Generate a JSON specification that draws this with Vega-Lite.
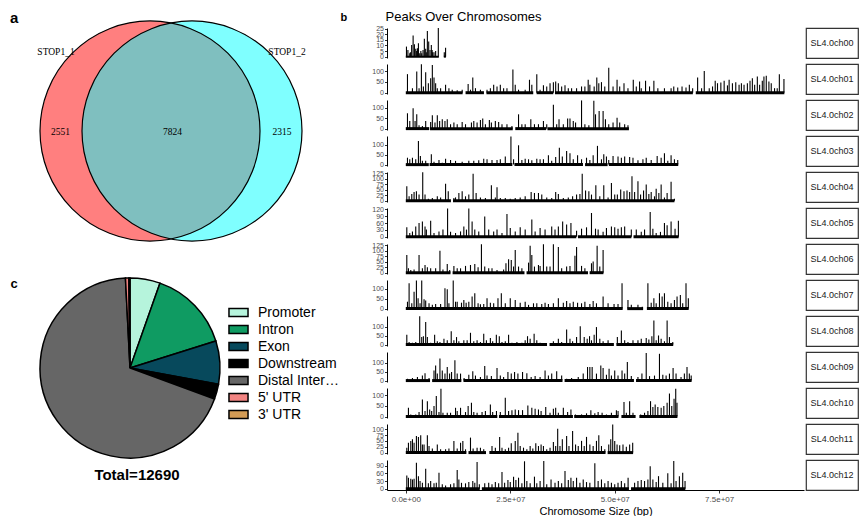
{
"$schema":"https://vega.github.io/schema/vega-lite/v6.json",
"padding":{"left":10,"top":10,"right":0,"bottom":0},
"background":"white",
"config":{"font":"Liberation Sans","view":{"stroke":null},"axis":{"grid":false,"domainColor":"black","tickColor":"#333333","labelColor":"#4d4d4d","labelFont":"Liberation Sans","titleFont":"Liberation Sans"},"axisY":{"labelFontSize":7,"tickSize":2.5,"labelPadding":1,"labelOverlap":false,"labelFlush":false,"labelBaseline":"middle"}},
"datasets":{
"venn":[{"set":"STOP1_1","x":140,"y":117},{"set":"STOP1_2","x":182,"y":117}],
"vlab":[{"t":"STOP1_1","x":46,"y":196},{"t":"STOP1_2","x":277,"y":196},{"t":"2551","x":50.5,"y":116},{"t":"7824","x":162.5,"y":116},{"t":"2315","x":272,"y":116}],
"pie":[{"k":"Promoter","n":685,"o":1},{"k":"Intron","n":1872,"o":2},{"k":"Exon","n":983,"o":3},{"k":"Downstream","n":343,"o":4},{"k":"Distal Intergenic","n":8705,"o":5},{"k":"5' UTR","n":76,"o":6},{"k":"3' UTR","n":26,"o":7}],
"segs":[{"c":"00","a":0,"b":7.9},{"c":"00","a":9.1,"b":9.6},
{"c":"01","a":0,"b":13.6},{"c":"01","a":14.3,"b":18.7},{"c":"01","a":19.3,"b":30.5},{"c":"01","a":31.3,"b":35.3},{"c":"01","a":35.7,"b":68.7},{"c":"01","a":69.4,"b":90.6},
{"c":"02","a":0,"b":5.6},{"c":"02","a":5.8,"b":25.6},{"c":"02","a":26.2,"b":33.6},{"c":"02","a":33.9,"b":53.4},
{"c":"03","a":0,"b":5.5},{"c":"03","a":5.7,"b":25.5},{"c":"03","a":26,"b":42.4},{"c":"03","a":42.9,"b":48.3},{"c":"03","a":48.6,"b":65.2},
{"c":"04","a":0,"b":10.8},{"c":"04","a":11.3,"b":64.3},
{"c":"05","a":0,"b":40.8},{"c":"05","a":41.2,"b":54.0},{"c":"05","a":54.5,"b":65.3},
{"c":"06","a":0,"b":10.7},{"c":"06","a":11.2,"b":28.4},{"c":"06","a":28.9,"b":43.6},{"c":"06","a":44.0,"b":47.3},
{"c":"07","a":0,"b":51.9},{"c":"07","a":53.0,"b":56.8},{"c":"07","a":57.7,"b":67.7},
{"c":"08","a":0,"b":33.8},{"c":"08","a":34.4,"b":49.8},{"c":"08","a":50.4,"b":64.0},
{"c":"09","a":0,"b":5.8},{"c":"09","a":6.3,"b":13.3},{"c":"09","a":13.8,"b":37.5},{"c":"09","a":38.0,"b":54.6},{"c":"09","a":55.1,"b":68.4},
{"c":"10","a":0,"b":21.9},{"c":"10","a":22.3,"b":40.0},{"c":"10","a":40.3,"b":50.9},{"c":"10","a":51.6,"b":55.0},{"c":"10","a":55.9,"b":65.0},
{"c":"11","a":0,"b":14.5},{"c":"11","a":15.0,"b":19.2},{"c":"11","a":20.0,"b":47.8},{"c":"11","a":48.3,"b":54.4},
{"c":"12","a":0,"b":17.7},{"c":"12","a":18.2,"b":53.4},{"c":"12","a":53.9,"b":66.9}],
"peaks":[
{"c":"00","p":0.16,"s":9},{"c":"00","p":0.5,"s":6},{"c":"00","p":0.95,"s":3},{"c":"00","p":1.1,"s":4},{"c":"00","p":1.4,"s":10.5},{"c":"00","p":1.75,"s":19},{"c":"00","p":2.06,"s":11},{"c":"00","p":2.38,"s":7},{"c":"00","p":2.6,"s":5},{"c":"00","p":2.78,"s":7.5},{"c":"00","p":3.02,"s":12},{"c":"00","p":3.33,"s":3},{"c":"00","p":3.6,"s":5},{"c":"00","p":3.81,"s":3},{"c":"00","p":4.13,"s":6},{"c":"00","p":4.44,"s":16},{"c":"00","p":4.76,"s":7},{"c":"00","p":4.9,"s":4},{"c":"00","p":5.16,"s":23},{"c":"00","p":5.48,"s":13.5},{"c":"00","p":5.79,"s":6},{"c":"00","p":6.11,"s":10.5},{"c":"00","p":6.3,"s":6},{"c":"00","p":6.43,"s":4},{"c":"00","p":6.75,"s":4},{"c":"00","p":7.14,"s":5},{"c":"00","p":7.78,"s":25.5},{"c":"00","p":9.21,"s":4},{"c":"00","p":9.52,"s":8},
{"c":"01","p":0.4,"s":86},{"c":"01","p":1.59,"s":21},{"c":"01","p":2.62,"s":98},{"c":"01","p":3.17,"s":21},{"c":"01","p":3.73,"s":132},{"c":"01","p":4.21,"s":29},{"c":"01","p":4.76,"s":95},{"c":"01","p":5.4,"s":44},{"c":"01","p":5.95,"s":67},{"c":"01","p":6.35,"s":128},{"c":"01","p":6.75,"s":70},{"c":"01","p":7.14,"s":44},{"c":"01","p":7.54,"s":21},{"c":"01","p":8.33,"s":21},{"c":"01","p":9.52,"s":37},{"c":"01","p":10.32,"s":21},{"c":"01","p":11.11,"s":14},{"c":"01","p":12.3,"s":11},{"c":"01","p":13.49,"s":14},{"c":"01","p":14.92,"s":40},{"c":"01","p":15.48,"s":14},{"c":"01","p":16.03,"s":70},{"c":"01","p":16.67,"s":21},{"c":"01","p":17.86,"s":14},{"c":"01","p":19.44,"s":14},{"c":"01","p":20.24,"s":21},{"c":"01","p":21.03,"s":37},{"c":"01","p":21.83,"s":29},{"c":"01","p":22.62,"s":37},{"c":"01","p":23.41,"s":21},{"c":"01","p":24.21,"s":21},{"c":"01","p":25.63,"s":108},{"c":"01","p":26.19,"s":37},{"c":"01","p":26.98,"s":14},{"c":"01","p":28.57,"s":14},{"c":"01","p":29.6,"s":60},{"c":"01","p":30.16,"s":37},{"c":"01","p":31.35,"s":85},{"c":"01","p":32.14,"s":14},{"c":"01","p":32.94,"s":34},{"c":"01","p":33.73,"s":29},{"c":"01","p":34.52,"s":44},{"c":"01","p":35.32,"s":49},{"c":"01","p":35.87,"s":52},{"c":"01","p":36.51,"s":44},{"c":"01","p":37.3,"s":29},{"c":"01","p":38.1,"s":34},{"c":"01","p":38.89,"s":21},{"c":"01","p":39.68,"s":21},{"c":"01","p":40.87,"s":21},{"c":"01","p":42.06,"s":29},{"c":"01","p":42.86,"s":29},{"c":"01","p":43.65,"s":60},{"c":"01","p":44.05,"s":37},{"c":"01","p":45.08,"s":29},{"c":"01","p":45.71,"s":70},{"c":"01","p":46.19,"s":44},{"c":"01","p":46.83,"s":49},{"c":"01","p":47.62,"s":29},{"c":"01","p":48.57,"s":116},{"c":"01","p":49.6,"s":29},{"c":"01","p":50.56,"s":60},{"c":"01","p":51.19,"s":29},{"c":"01","p":52.22,"s":44},{"c":"01","p":53.17,"s":21},{"c":"01","p":54.44,"s":60},{"c":"01","p":55.16,"s":29},{"c":"01","p":55.95,"s":52},{"c":"01","p":56.35,"s":21},{"c":"01","p":57.38,"s":55},{"c":"01","p":58.33,"s":29},{"c":"01","p":59.37,"s":55},{"c":"01","p":60.32,"s":21},{"c":"01","p":61.9,"s":21},{"c":"01","p":63.49,"s":21},{"c":"01","p":64.13,"s":29},{"c":"01","p":65.08,"s":24},{"c":"01","p":66.11,"s":29},{"c":"01","p":67.06,"s":24},{"c":"01","p":67.86,"s":37},{"c":"01","p":68.65,"s":21},{"c":"01","p":69.84,"s":70},{"c":"01","p":70.79,"s":21},{"c":"01","p":71.43,"s":101},{"c":"01","p":72.62,"s":21},{"c":"01","p":73.41,"s":29},{"c":"01","p":74.05,"s":55},{"c":"01","p":74.6,"s":44},{"c":"01","p":75.4,"s":47},{"c":"01","p":76.19,"s":55},{"c":"01","p":76.98,"s":34},{"c":"01","p":77.38,"s":60},{"c":"01","p":78.17,"s":44},{"c":"01","p":78.97,"s":49},{"c":"01","p":79.76,"s":37},{"c":"01","p":80.32,"s":44},{"c":"01","p":80.95,"s":37},{"c":"01","p":81.75,"s":44},{"c":"01","p":82.38,"s":55},{"c":"01","p":82.94,"s":67},{"c":"01","p":83.49,"s":37},{"c":"01","p":84.13,"s":75},{"c":"01","p":84.68,"s":37},{"c":"01","p":85.32,"s":55},{"c":"01","p":85.71,"s":75},{"c":"01","p":86.27,"s":79},{"c":"01","p":86.9,"s":52},{"c":"01","p":87.46,"s":44},{"c":"01","p":88.25,"s":21},{"c":"01","p":88.89,"s":21},{"c":"01","p":89.4,"s":85},{"c":"01","p":90.5,"s":64},
{"c":"02","p":0.4,"s":73},{"c":"02","p":0.95,"s":36},{"c":"02","p":1.75,"s":97},{"c":"02","p":2.22,"s":36},{"c":"02","p":2.62,"s":68},{"c":"02","p":3.17,"s":16},{"c":"02","p":3.97,"s":13},{"c":"02","p":4.76,"s":36},{"c":"02","p":5.95,"s":32},{"c":"02","p":6.35,"s":63},{"c":"02","p":6.98,"s":29},{"c":"02","p":7.54,"s":63},{"c":"02","p":8.1,"s":36},{"c":"02","p":8.73,"s":44},{"c":"02","p":9.37,"s":36},{"c":"02","p":9.92,"s":44},{"c":"02","p":10.71,"s":21},{"c":"02","p":11.51,"s":29},{"c":"02","p":12.3,"s":21},{"c":"02","p":13.49,"s":32},{"c":"02","p":14.29,"s":21},{"c":"02","p":15.71,"s":29},{"c":"02","p":16.27,"s":36},{"c":"02","p":17.06,"s":29},{"c":"02","p":17.86,"s":41},{"c":"02","p":18.41,"s":48},{"c":"02","p":19.05,"s":21},{"c":"02","p":20.0,"s":41},{"c":"02","p":20.48,"s":29},{"c":"02","p":21.43,"s":36},{"c":"02","p":22.22,"s":32},{"c":"02","p":23.02,"s":21},{"c":"02","p":24.21,"s":21},{"c":"02","p":25.4,"s":13},{"c":"02","p":26.98,"s":68},{"c":"02","p":27.78,"s":21},{"c":"02","p":28.57,"s":21},{"c":"02","p":29.92,"s":44},{"c":"02","p":30.79,"s":21},{"c":"02","p":31.75,"s":21},{"c":"02","p":32.94,"s":36},{"c":"02","p":33.73,"s":21},{"c":"02","p":35.32,"s":113},{"c":"02","p":36.11,"s":21},{"c":"02","p":36.67,"s":44},{"c":"02","p":37.7,"s":21},{"c":"02","p":38.73,"s":48},{"c":"02","p":39.29,"s":48},{"c":"02","p":40.08,"s":36},{"c":"02","p":40.63,"s":29},{"c":"02","p":42.06,"s":134},{"c":"02","p":42.86,"s":21},{"c":"02","p":43.81,"s":16},{"c":"02","p":45.0,"s":133},{"c":"02","p":45.4,"s":68},{"c":"02","p":46.27,"s":84},{"c":"02","p":47.22,"s":84},{"c":"02","p":47.78,"s":44},{"c":"02","p":48.57,"s":21},{"c":"02","p":49.6,"s":29},{"c":"02","p":50.56,"s":52},{"c":"02","p":51.19,"s":29},{"c":"02","p":52.38,"s":21},{"c":"02","p":53.17,"s":16},
{"c":"03","p":0.4,"s":35},{"c":"03","p":0.95,"s":27},{"c":"03","p":1.59,"s":35},{"c":"03","p":2.38,"s":27},{"c":"03","p":3.02,"s":120},{"c":"03","p":3.49,"s":44},{"c":"03","p":3.97,"s":19},{"c":"03","p":4.76,"s":19},{"c":"03","p":6.11,"s":52},{"c":"03","p":6.75,"s":14},{"c":"03","p":7.94,"s":24},{"c":"03","p":8.73,"s":10},{"c":"03","p":9.52,"s":30},{"c":"03","p":10.71,"s":24},{"c":"03","p":11.9,"s":19},{"c":"03","p":13.49,"s":14},{"c":"03","p":15.08,"s":19},{"c":"03","p":16.27,"s":19},{"c":"03","p":17.46,"s":22},{"c":"03","p":18.65,"s":30},{"c":"03","p":19.44,"s":27},{"c":"03","p":20.63,"s":24},{"c":"03","p":21.83,"s":24},{"c":"03","p":22.62,"s":27},{"c":"03","p":23.81,"s":41},{"c":"03","p":25.16,"s":143},{"c":"03","p":25.79,"s":27},{"c":"03","p":26.98,"s":98},{"c":"03","p":27.78,"s":24},{"c":"03","p":28.57,"s":30},{"c":"03","p":29.37,"s":27},{"c":"03","p":30.16,"s":22},{"c":"03","p":31.35,"s":30},{"c":"03","p":32.14,"s":27},{"c":"03","p":32.94,"s":27},{"c":"03","p":34.13,"s":47},{"c":"03","p":34.92,"s":19},{"c":"03","p":35.87,"s":39},{"c":"03","p":36.75,"s":86},{"c":"03","p":37.46,"s":41},{"c":"03","p":38.49,"s":69},{"c":"03","p":39.29,"s":57},{"c":"03","p":40.08,"s":27},{"c":"03","p":41.11,"s":47},{"c":"03","p":42.06,"s":27},{"c":"03","p":43.25,"s":35},{"c":"03","p":44.05,"s":24},{"c":"03","p":44.84,"s":47},{"c":"03","p":45.87,"s":95},{"c":"03","p":46.83,"s":27},{"c":"03","p":47.38,"s":52},{"c":"03","p":48.02,"s":41},{"c":"03","p":48.57,"s":24},{"c":"03","p":49.6,"s":44},{"c":"03","p":50.79,"s":41},{"c":"03","p":51.59,"s":35},{"c":"03","p":52.38,"s":41},{"c":"03","p":53.57,"s":39},{"c":"03","p":54.37,"s":35},{"c":"03","p":55.56,"s":22},{"c":"03","p":56.75,"s":27},{"c":"03","p":57.54,"s":35},{"c":"03","p":58.73,"s":24},{"c":"03","p":60.16,"s":44},{"c":"03","p":61.11,"s":35},{"c":"03","p":61.9,"s":57},{"c":"03","p":62.7,"s":19},{"c":"03","p":63.49,"s":47},{"c":"03","p":64.29,"s":27},{"c":"03","p":65.08,"s":24},
{"c":"04","p":0.24,"s":66},{"c":"04","p":0.79,"s":20},{"c":"04","p":1.43,"s":31},{"c":"04","p":1.98,"s":40},{"c":"04","p":2.54,"s":43},{"c":"04","p":3.17,"s":28},{"c":"04","p":4.05,"s":130},{"c":"04","p":4.6,"s":28},{"c":"04","p":5.4,"s":9},{"c":"04","p":6.35,"s":12},{"c":"04","p":7.54,"s":20},{"c":"04","p":8.33,"s":15},{"c":"04","p":9.52,"s":77},{"c":"04","p":10.16,"s":43},{"c":"04","p":11.51,"s":12},{"c":"04","p":11.9,"s":15},{"c":"04","p":12.7,"s":35},{"c":"04","p":13.49,"s":43},{"c":"04","p":14.29,"s":20},{"c":"04","p":15.08,"s":28},{"c":"04","p":16.11,"s":123},{"c":"04","p":16.83,"s":35},{"c":"04","p":17.86,"s":15},{"c":"04","p":19.05,"s":12},{"c":"04","p":20.48,"s":71},{"c":"04","p":21.43,"s":15},{"c":"04","p":21.83,"s":61},{"c":"04","p":22.62,"s":12},{"c":"04","p":23.81,"s":12},{"c":"04","p":25.0,"s":9},{"c":"04","p":26.19,"s":12},{"c":"04","p":27.38,"s":15},{"c":"04","p":28.57,"s":20},{"c":"04","p":30.0,"s":40},{"c":"04","p":30.79,"s":35},{"c":"04","p":31.75,"s":35},{"c":"04","p":32.54,"s":28},{"c":"04","p":33.73,"s":15},{"c":"04","p":34.92,"s":12},{"c":"04","p":35.87,"s":40},{"c":"04","p":36.51,"s":31},{"c":"04","p":37.7,"s":12},{"c":"04","p":38.89,"s":15},{"c":"04","p":39.92,"s":20},{"c":"04","p":40.87,"s":28},{"c":"04","p":41.67,"s":31},{"c":"04","p":42.22,"s":123},{"c":"04","p":43.02,"s":46},{"c":"04","p":43.81,"s":43},{"c":"04","p":44.44,"s":28},{"c":"04","p":45.48,"s":71},{"c":"04","p":46.43,"s":20},{"c":"04","p":47.38,"s":71},{"c":"04","p":48.41,"s":15},{"c":"04","p":49.21,"s":81},{"c":"04","p":50.0,"s":28},{"c":"04","p":50.63,"s":28},{"c":"04","p":51.43,"s":51},{"c":"04","p":52.22,"s":43},{"c":"04","p":52.94,"s":46},{"c":"04","p":53.57,"s":40},{"c":"04","p":54.13,"s":112},{"c":"04","p":54.76,"s":40},{"c":"04","p":55.56,"s":89},{"c":"04","p":56.19,"s":28},{"c":"04","p":56.9,"s":46},{"c":"04","p":57.54,"s":74},{"c":"04","p":58.17,"s":31},{"c":"04","p":58.73,"s":40},{"c":"04","p":59.52,"s":20},{"c":"04","p":59.92,"s":55},{"c":"04","p":60.56,"s":35},{"c":"04","p":61.11,"s":74},{"c":"04","p":61.9,"s":15},{"c":"04","p":62.54,"s":35},{"c":"04","p":63.49,"s":86},{"c":"04","p":64.29,"s":9},
{"c":"05","p":0.24,"s":41},{"c":"05","p":0.95,"s":16},{"c":"05","p":1.59,"s":23},{"c":"05","p":2.38,"s":45},{"c":"05","p":3.17,"s":60},{"c":"05","p":3.97,"s":67},{"c":"05","p":4.6,"s":45},{"c":"05","p":4.92,"s":31},{"c":"05","p":5.95,"s":70},{"c":"05","p":6.75,"s":16},{"c":"05","p":7.94,"s":23},{"c":"05","p":8.89,"s":31},{"c":"05","p":10.0,"s":124},{"c":"05","p":10.71,"s":21},{"c":"05","p":11.9,"s":16},{"c":"05","p":13.1,"s":23},{"c":"05","p":13.89,"s":45},{"c":"05","p":14.52,"s":31},{"c":"05","p":15.08,"s":124},{"c":"05","p":15.87,"s":67},{"c":"05","p":16.51,"s":31},{"c":"05","p":17.46,"s":23},{"c":"05","p":18.89,"s":89},{"c":"05","p":19.84,"s":31},{"c":"05","p":21.03,"s":23},{"c":"05","p":21.83,"s":31},{"c":"05","p":23.02,"s":16},{"c":"05","p":24.21,"s":100},{"c":"05","p":25.0,"s":38},{"c":"05","p":26.19,"s":23},{"c":"05","p":27.38,"s":41},{"c":"05","p":28.57,"s":31},{"c":"05","p":30.16,"s":75},{"c":"05","p":30.95,"s":23},{"c":"05","p":32.14,"s":38},{"c":"05","p":33.33,"s":31},{"c":"05","p":34.92,"s":45},{"c":"05","p":35.71,"s":31},{"c":"05","p":36.51,"s":45},{"c":"05","p":37.54,"s":67},{"c":"05","p":38.49,"s":53},{"c":"05","p":39.52,"s":60},{"c":"05","p":40.87,"s":26},{"c":"05","p":42.06,"s":35},{"c":"05","p":43.25,"s":41},{"c":"05","p":44.44,"s":104},{"c":"05","p":45.4,"s":35},{"c":"05","p":46.03,"s":31},{"c":"05","p":47.22,"s":21},{"c":"05","p":48.02,"s":38},{"c":"05","p":49.21,"s":45},{"c":"05","p":50.0,"s":41},{"c":"05","p":50.79,"s":35},{"c":"05","p":51.59,"s":41},{"c":"05","p":52.38,"s":45},{"c":"05","p":53.97,"s":31},{"c":"05","p":55.16,"s":31},{"c":"05","p":56.35,"s":21},{"c":"05","p":57.14,"s":31},{"c":"05","p":58.49,"s":108},{"c":"05","p":59.13,"s":35},{"c":"05","p":59.92,"s":16},{"c":"05","p":60.95,"s":21},{"c":"05","p":61.9,"s":60},{"c":"05","p":62.54,"s":50},{"c":"05","p":63.49,"s":67},{"c":"05","p":64.44,"s":35},{"c":"05","p":65.24,"s":70},
{"c":"06","p":0.24,"s":81},{"c":"06","p":0.63,"s":20},{"c":"06","p":1.19,"s":12},{"c":"06","p":1.98,"s":15},{"c":"06","p":3.17,"s":81},{"c":"06","p":3.97,"s":20},{"c":"06","p":4.6,"s":35},{"c":"06","p":5.16,"s":25},{"c":"06","p":5.95,"s":20},{"c":"06","p":7.14,"s":20},{"c":"06","p":8.17,"s":100},{"c":"06","p":8.89,"s":15},{"c":"06","p":9.92,"s":40},{"c":"06","p":10.5,"s":12},{"c":"06","p":11.51,"s":31},{"c":"06","p":12.3,"s":20},{"c":"06","p":13.1,"s":20},{"c":"06","p":14.29,"s":31},{"c":"06","p":15.48,"s":35},{"c":"06","p":16.51,"s":40},{"c":"06","p":17.3,"s":25},{"c":"06","p":18.1,"s":130},{"c":"06","p":18.89,"s":28},{"c":"06","p":19.84,"s":20},{"c":"06","p":20.63,"s":20},{"c":"06","p":21.83,"s":12},{"c":"06","p":23.41,"s":15},{"c":"06","p":23.97,"s":43},{"c":"06","p":24.6,"s":61},{"c":"06","p":25.24,"s":58},{"c":"06","p":25.79,"s":28},{"c":"06","p":26.19,"s":104},{"c":"06","p":26.98,"s":28},{"c":"06","p":27.78,"s":20},{"c":"06","p":29.37,"s":46},{"c":"06","p":29.76,"s":123},{"c":"06","p":30.16,"s":81},{"c":"06","p":30.79,"s":28},{"c":"06","p":31.75,"s":35},{"c":"06","p":32.14,"s":31},{"c":"06","p":32.94,"s":130},{"c":"06","p":33.73,"s":28},{"c":"06","p":34.52,"s":28},{"c":"06","p":35.32,"s":130},{"c":"06","p":36.51,"s":117},{"c":"06","p":37.3,"s":20},{"c":"06","p":38.49,"s":28},{"c":"06","p":39.29,"s":31},{"c":"06","p":40.48,"s":77},{"c":"06","p":40.87,"s":117},{"c":"06","p":42.06,"s":31},{"c":"06","p":42.86,"s":20},{"c":"06","p":44.44,"s":43},{"c":"06","p":44.84,"s":51},{"c":"06","p":45.79,"s":123},{"c":"06","p":46.43,"s":28},{"c":"06","p":47.22,"s":104},
{"c":"07","p":0.4,"s":35},{"c":"07","p":0.79,"s":128},{"c":"07","p":1.43,"s":27},{"c":"07","p":1.98,"s":86},{"c":"07","p":2.54,"s":143},{"c":"07","p":2.94,"s":52},{"c":"07","p":3.41,"s":27},{"c":"07","p":3.81,"s":142},{"c":"07","p":4.37,"s":47},{"c":"07","p":4.76,"s":41},{"c":"07","p":5.56,"s":27},{"c":"07","p":6.35,"s":19},{"c":"07","p":7.14,"s":24},{"c":"07","p":8.33,"s":24},{"c":"07","p":9.37,"s":103},{"c":"07","p":9.92,"s":98},{"c":"07","p":10.32,"s":27},{"c":"07","p":11.35,"s":143},{"c":"07","p":11.9,"s":35},{"c":"07","p":12.3,"s":35},{"c":"07","p":13.33,"s":30},{"c":"07","p":13.89,"s":44},{"c":"07","p":14.44,"s":30},{"c":"07","p":15.08,"s":35},{"c":"07","p":15.87,"s":61},{"c":"07","p":16.51,"s":78},{"c":"07","p":17.3,"s":27},{"c":"07","p":17.86,"s":22},{"c":"07","p":18.65,"s":24},{"c":"07","p":19.44,"s":52},{"c":"07","p":20.24,"s":30},{"c":"07","p":21.03,"s":27},{"c":"07","p":22.06,"s":52},{"c":"07","p":22.86,"s":78},{"c":"07","p":23.81,"s":27},{"c":"07","p":25.0,"s":52},{"c":"07","p":26.19,"s":44},{"c":"07","p":27.38,"s":30},{"c":"07","p":28.57,"s":35},{"c":"07","p":29.37,"s":19},{"c":"07","p":30.56,"s":27},{"c":"07","p":31.35,"s":27},{"c":"07","p":32.54,"s":24},{"c":"07","p":33.33,"s":30},{"c":"07","p":34.13,"s":24},{"c":"07","p":35.32,"s":27},{"c":"07","p":36.51,"s":52},{"c":"07","p":37.7,"s":30},{"c":"07","p":38.49,"s":39},{"c":"07","p":39.29,"s":27},{"c":"07","p":40.08,"s":35},{"c":"07","p":41.11,"s":30},{"c":"07","p":42.06,"s":27},{"c":"07","p":42.86,"s":35},{"c":"07","p":44.05,"s":24},{"c":"07","p":44.84,"s":39},{"c":"07","p":45.63,"s":27},{"c":"07","p":47.22,"s":61},{"c":"07","p":48.41,"s":27},{"c":"07","p":49.84,"s":24},{"c":"07","p":50.79,"s":24},{"c":"07","p":51.75,"s":128},{"c":"07","p":53.17,"s":44},{"c":"07","p":53.97,"s":19},{"c":"07","p":55.56,"s":19},{"c":"07","p":56.6,"s":10},{"c":"07","p":57.94,"s":128},{"c":"07","p":58.73,"s":30},{"c":"07","p":59.37,"s":52},{"c":"07","p":59.92,"s":27},{"c":"07","p":60.71,"s":78},{"c":"07","p":61.35,"s":61},{"c":"07","p":61.9,"s":78},{"c":"07","p":62.7,"s":35},{"c":"07","p":63.49,"s":27},{"c":"07","p":64.29,"s":44},{"c":"07","p":64.92,"s":61},{"c":"07","p":65.71,"s":69},{"c":"07","p":66.27,"s":27},{"c":"07","p":67.06,"s":128},{"c":"07","p":67.62,"s":52},
{"c":"08","p":0.24,"s":55},{"c":"08","p":0.79,"s":14},{"c":"08","p":1.59,"s":10},{"c":"08","p":2.38,"s":14},{"c":"08","p":3.33,"s":158},{"c":"08","p":3.81,"s":42},{"c":"08","p":4.21,"s":47},{"c":"08","p":4.76,"s":126},{"c":"08","p":5.16,"s":42},{"c":"08","p":5.95,"s":10},{"c":"08","p":6.9,"s":55},{"c":"08","p":7.54,"s":18},{"c":"08","p":8.17,"s":14},{"c":"08","p":9.13,"s":33},{"c":"08","p":9.92,"s":24},{"c":"08","p":10.87,"s":74},{"c":"08","p":11.51,"s":24},{"c":"08","p":12.14,"s":42},{"c":"08","p":12.7,"s":18},{"c":"08","p":13.89,"s":24},{"c":"08","p":14.68,"s":24},{"c":"08","p":15.48,"s":66},{"c":"08","p":16.27,"s":18},{"c":"08","p":17.06,"s":24},{"c":"08","p":17.86,"s":14},{"c":"08","p":18.65,"s":61},{"c":"08","p":19.29,"s":24},{"c":"08","p":20.24,"s":37},{"c":"08","p":20.79,"s":18},{"c":"08","p":21.67,"s":55},{"c":"08","p":22.38,"s":47},{"c":"08","p":23.02,"s":14},{"c":"08","p":23.81,"s":18},{"c":"08","p":24.6,"s":55},{"c":"08","p":25.4,"s":10},{"c":"08","p":26.59,"s":14},{"c":"08","p":27.78,"s":10},{"c":"08","p":28.57,"s":24},{"c":"08","p":29.13,"s":47},{"c":"08","p":29.76,"s":33},{"c":"08","p":30.71,"s":61},{"c":"08","p":31.35,"s":24},{"c":"08","p":32.14,"s":10},{"c":"08","p":32.94,"s":5},{"c":"08","p":35.32,"s":18},{"c":"08","p":36.51,"s":33},{"c":"08","p":37.3,"s":14},{"c":"08","p":38.49,"s":85},{"c":"08","p":39.29,"s":33},{"c":"08","p":39.92,"s":18},{"c":"08","p":40.87,"s":42},{"c":"08","p":41.75,"s":103},{"c":"08","p":42.7,"s":42},{"c":"08","p":43.41,"s":33},{"c":"08","p":43.97,"s":47},{"c":"08","p":44.44,"s":24},{"c":"08","p":45.08,"s":55},{"c":"08","p":45.63,"s":98},{"c":"08","p":46.43,"s":33},{"c":"08","p":47.22,"s":18},{"c":"08","p":48.41,"s":24},{"c":"08","p":49.4,"s":5},{"c":"08","p":50.63,"s":42},{"c":"08","p":51.59,"s":79},{"c":"08","p":52.38,"s":24},{"c":"08","p":53.17,"s":14},{"c":"08","p":54.37,"s":24},{"c":"08","p":55.56,"s":24},{"c":"08","p":56.35,"s":33},{"c":"08","p":57.54,"s":37},{"c":"08","p":58.17,"s":29},{"c":"08","p":58.89,"s":47},{"c":"08","p":59.37,"s":135},{"c":"08","p":59.92,"s":24},{"c":"08","p":60.48,"s":51},{"c":"08","p":61.11,"s":33},{"c":"08","p":61.9,"s":18},{"c":"08","p":62.54,"s":135},{"c":"08","p":63.1,"s":42},{"c":"08","p":63.89,"s":14},
{"c":"09","p":0.4,"s":10},{"c":"09","p":1.59,"s":14},{"c":"09","p":2.78,"s":20},{"c":"09","p":3.97,"s":28},{"c":"09","p":4.6,"s":41},{"c":"09","p":5.56,"s":14},{"c":"09","p":6.75,"s":57},{"c":"09","p":7.14,"s":85},{"c":"09","p":7.54,"s":39},{"c":"09","p":8.17,"s":123},{"c":"09","p":8.73,"s":57},{"c":"09","p":9.37,"s":39},{"c":"09","p":9.92,"s":76},{"c":"09","p":10.48,"s":39},{"c":"09","p":10.95,"s":48},{"c":"09","p":11.75,"s":114},{"c":"09","p":12.3,"s":39},{"c":"09","p":13.1,"s":39},{"c":"09","p":13.95,"s":14},{"c":"09","p":15.08,"s":33},{"c":"09","p":16.03,"s":52},{"c":"09","p":16.67,"s":28},{"c":"09","p":17.86,"s":20},{"c":"09","p":18.89,"s":81},{"c":"09","p":19.44,"s":28},{"c":"09","p":20.48,"s":25},{"c":"09","p":21.83,"s":70},{"c":"09","p":22.62,"s":28},{"c":"09","p":23.41,"s":20},{"c":"09","p":24.44,"s":48},{"c":"09","p":25.24,"s":39},{"c":"09","p":26.03,"s":48},{"c":"09","p":26.83,"s":39},{"c":"09","p":27.94,"s":48},{"c":"09","p":28.97,"s":41},{"c":"09","p":30.0,"s":20},{"c":"09","p":30.95,"s":25},{"c":"09","p":32.14,"s":20},{"c":"09","p":33.33,"s":57},{"c":"09","p":34.13,"s":28},{"c":"09","p":34.92,"s":39},{"c":"09","p":36.11,"s":52},{"c":"09","p":37.3,"s":28},{"c":"09","p":38.49,"s":10},{"c":"09","p":39.68,"s":14},{"c":"09","p":41.27,"s":20},{"c":"09","p":42.46,"s":39},{"c":"09","p":43.49,"s":76},{"c":"09","p":44.05,"s":76},{"c":"09","p":44.6,"s":76},{"c":"09","p":45.63,"s":39},{"c":"09","p":46.67,"s":85},{"c":"09","p":47.22,"s":70},{"c":"09","p":48.02,"s":33},{"c":"09","p":48.65,"s":66},{"c":"09","p":49.21,"s":28},{"c":"09","p":50.0,"s":57},{"c":"09","p":50.79,"s":28},{"c":"09","p":51.75,"s":57},{"c":"09","p":52.38,"s":39},{"c":"09","p":53.02,"s":104},{"c":"09","p":53.97,"s":25},{"c":"09","p":55.56,"s":20},{"c":"09","p":56.51,"s":39},{"c":"09","p":57.54,"s":155},{"c":"09","p":58.33,"s":25},{"c":"09","p":59.52,"s":28},{"c":"09","p":60.71,"s":150},{"c":"09","p":61.51,"s":33},{"c":"09","p":62.3,"s":28},{"c":"09","p":63.1,"s":39},{"c":"09","p":63.97,"s":70},{"c":"09","p":64.68,"s":39},{"c":"09","p":65.87,"s":20},{"c":"09","p":66.67,"s":39},{"c":"09","p":67.3,"s":76},{"c":"09","p":67.86,"s":39},{"c":"09","p":68.3,"s":28},
{"c":"10","p":0.63,"s":41},{"c":"10","p":1.19,"s":10},{"c":"10","p":2.38,"s":10},{"c":"10","p":3.17,"s":21},{"c":"10","p":3.97,"s":80},{"c":"10","p":4.6,"s":26},{"c":"10","p":5.16,"s":72},{"c":"10","p":5.71,"s":33},{"c":"10","p":6.19,"s":26},{"c":"10","p":6.75,"s":49},{"c":"10","p":7.3,"s":96},{"c":"10","p":7.94,"s":21},{"c":"10","p":8.41,"s":130},{"c":"10","p":8.89,"s":18},{"c":"10","p":9.92,"s":18},{"c":"10","p":10.71,"s":18},{"c":"10","p":11.9,"s":41},{"c":"10","p":12.3,"s":26},{"c":"10","p":13.1,"s":41},{"c":"10","p":14.29,"s":21},{"c":"10","p":14.92,"s":49},{"c":"10","p":15.71,"s":65},{"c":"10","p":16.27,"s":21},{"c":"10","p":17.06,"s":18},{"c":"10","p":18.25,"s":21},{"c":"10","p":19.05,"s":26},{"c":"10","p":20.24,"s":57},{"c":"10","p":20.79,"s":21},{"c":"10","p":21.7,"s":26},{"c":"10","p":22.62,"s":21},{"c":"10","p":23.81,"s":88},{"c":"10","p":24.6,"s":26},{"c":"10","p":25.4,"s":30},{"c":"10","p":26.19,"s":33},{"c":"10","p":26.98,"s":30},{"c":"10","p":27.94,"s":30},{"c":"10","p":29.21,"s":52},{"c":"10","p":30.16,"s":41},{"c":"10","p":30.95,"s":37},{"c":"10","p":31.75,"s":33},{"c":"10","p":32.38,"s":26},{"c":"10","p":33.49,"s":45},{"c":"10","p":34.52,"s":18},{"c":"10","p":35.32,"s":37},{"c":"10","p":35.87,"s":41},{"c":"10","p":36.51,"s":18},{"c":"10","p":37.7,"s":41},{"c":"10","p":38.73,"s":21},{"c":"10","p":39.52,"s":33},{"c":"10","p":40.6,"s":10},{"c":"10","p":42.06,"s":10},{"c":"10","p":43.25,"s":15},{"c":"10","p":44.29,"s":30},{"c":"10","p":45.24,"s":15},{"c":"10","p":46.03,"s":21},{"c":"10","p":46.98,"s":18},{"c":"10","p":48.02,"s":10},{"c":"10","p":49.21,"s":18},{"c":"10","p":50.4,"s":30},{"c":"10","p":50.8,"s":26},{"c":"10","p":52.22,"s":68},{"c":"10","p":52.78,"s":18},{"c":"10","p":53.57,"s":72},{"c":"10","p":54.37,"s":18},{"c":"10","p":56.2,"s":10},{"c":"10","p":57.14,"s":18},{"c":"10","p":57.94,"s":26},{"c":"10","p":58.57,"s":72},{"c":"10","p":59.13,"s":45},{"c":"10","p":59.68,"s":57},{"c":"10","p":60.32,"s":45},{"c":"10","p":61.11,"s":41},{"c":"10","p":61.75,"s":49},{"c":"10","p":62.54,"s":65},{"c":"10","p":63.1,"s":108},{"c":"10","p":63.65,"s":49},{"c":"10","p":64.2,"s":83},{"c":"10","p":64.6,"s":131},{"c":"10","p":64.9,"s":65},
{"c":"11","p":0.24,"s":21},{"c":"11","p":0.63,"s":42},{"c":"11","p":1.19,"s":50},{"c":"11","p":1.59,"s":57},{"c":"11","p":1.98,"s":42},{"c":"11","p":2.54,"s":71},{"c":"11","p":3.02,"s":67},{"c":"11","p":3.57,"s":74},{"c":"11","p":3.97,"s":35},{"c":"11","p":4.37,"s":35},{"c":"11","p":5.16,"s":74},{"c":"11","p":5.56,"s":28},{"c":"11","p":6.35,"s":17},{"c":"11","p":7.54,"s":35},{"c":"11","p":8.33,"s":14},{"c":"11","p":9.52,"s":14},{"c":"11","p":10.32,"s":17},{"c":"11","p":11.51,"s":50},{"c":"11","p":12.3,"s":17},{"c":"11","p":13.1,"s":42},{"c":"11","p":13.65,"s":50},{"c":"11","p":14.29,"s":14},{"c":"11","p":15.48,"s":64},{"c":"11","p":16.11,"s":17},{"c":"11","p":17.06,"s":21},{"c":"11","p":17.86,"s":21},{"c":"11","p":18.65,"s":14},{"c":"11","p":20.63,"s":28},{"c":"11","p":21.43,"s":21},{"c":"11","p":22.46,"s":67},{"c":"11","p":23.02,"s":21},{"c":"11","p":23.81,"s":14},{"c":"11","p":24.6,"s":21},{"c":"11","p":25.24,"s":40},{"c":"11","p":26.19,"s":50},{"c":"11","p":26.83,"s":85},{"c":"11","p":27.38,"s":28},{"c":"11","p":28.17,"s":21},{"c":"11","p":28.97,"s":14},{"c":"11","p":29.76,"s":28},{"c":"11","p":30.4,"s":17},{"c":"11","p":31.11,"s":40},{"c":"11","p":31.75,"s":28},{"c":"11","p":32.38,"s":35},{"c":"11","p":32.94,"s":28},{"c":"11","p":33.73,"s":14},{"c":"11","p":34.52,"s":21},{"c":"11","p":35.32,"s":45},{"c":"11","p":35.87,"s":28},{"c":"11","p":36.35,"s":102},{"c":"11","p":36.9,"s":28},{"c":"11","p":37.46,"s":57},{"c":"11","p":38.49,"s":71},{"c":"11","p":39.05,"s":28},{"c":"11","p":39.92,"s":92},{"c":"11","p":40.63,"s":35},{"c":"11","p":41.27,"s":28},{"c":"11","p":42.06,"s":50},{"c":"11","p":42.7,"s":28},{"c":"11","p":43.25,"s":67},{"c":"11","p":44.05,"s":35},{"c":"11","p":44.84,"s":28},{"c":"11","p":45.63,"s":50},{"c":"11","p":46.19,"s":74},{"c":"11","p":46.83,"s":28},{"c":"11","p":47.62,"s":14},{"c":"11","p":48.57,"s":35},{"c":"11","p":49.05,"s":57},{"c":"11","p":49.52,"s":120},{"c":"11","p":50.0,"s":50},{"c":"11","p":50.56,"s":35},{"c":"11","p":51.19,"s":31},{"c":"11","p":51.98,"s":35},{"c":"11","p":52.78,"s":25},{"c":"11","p":53.57,"s":35},{"c":"11","p":54.3,"s":42},
{"c":"12","p":0.24,"s":52},{"c":"12","p":0.63,"s":43},{"c":"12","p":1.19,"s":39},{"c":"12","p":1.59,"s":36},{"c":"12","p":1.98,"s":39},{"c":"12","p":2.54,"s":101},{"c":"12","p":3.02,"s":49},{"c":"12","p":3.41,"s":30},{"c":"12","p":3.97,"s":23},{"c":"12","p":4.76,"s":78},{"c":"12","p":5.4,"s":21},{"c":"12","p":5.95,"s":30},{"c":"12","p":6.75,"s":21},{"c":"12","p":7.3,"s":23},{"c":"12","p":7.94,"s":62},{"c":"12","p":8.73,"s":17},{"c":"12","p":9.52,"s":13},{"c":"12","p":10.71,"s":17},{"c":"12","p":11.51,"s":21},{"c":"12","p":12.3,"s":73},{"c":"12","p":12.7,"s":36},{"c":"12","p":13.33,"s":23},{"c":"12","p":14.29,"s":21},{"c":"12","p":15.08,"s":26},{"c":"12","p":16.03,"s":30},{"c":"12","p":16.51,"s":23},{"c":"12","p":17.06,"s":104},{"c":"12","p":17.6,"s":17},{"c":"12","p":18.89,"s":21},{"c":"12","p":19.84,"s":23},{"c":"12","p":20.63,"s":17},{"c":"12","p":21.43,"s":26},{"c":"12","p":22.22,"s":21},{"c":"12","p":23.02,"s":65},{"c":"12","p":23.65,"s":23},{"c":"12","p":24.44,"s":34},{"c":"12","p":25.0,"s":26},{"c":"12","p":25.79,"s":47},{"c":"12","p":26.35,"s":34},{"c":"12","p":26.98,"s":43},{"c":"12","p":27.78,"s":21},{"c":"12","p":28.41,"s":107},{"c":"12","p":28.97,"s":30},{"c":"12","p":29.76,"s":21},{"c":"12","p":30.79,"s":47},{"c":"12","p":31.35,"s":21},{"c":"12","p":32.14,"s":30},{"c":"12","p":33.02,"s":108},{"c":"12","p":33.73,"s":17},{"c":"12","p":34.76,"s":36},{"c":"12","p":35.71,"s":23},{"c":"12","p":36.51,"s":30},{"c":"12","p":37.3,"s":21},{"c":"12","p":38.1,"s":69},{"c":"12","p":38.89,"s":34},{"c":"12","p":39.52,"s":43},{"c":"12","p":40.08,"s":30},{"c":"12","p":40.87,"s":43},{"c":"12","p":41.67,"s":23},{"c":"12","p":42.46,"s":36},{"c":"12","p":43.25,"s":26},{"c":"12","p":44.05,"s":23},{"c":"12","p":45.24,"s":99},{"c":"12","p":46.03,"s":30},{"c":"12","p":46.83,"s":36},{"c":"12","p":47.62,"s":21},{"c":"12","p":48.41,"s":30},{"c":"12","p":49.21,"s":23},{"c":"12","p":50.0,"s":17},{"c":"12","p":50.79,"s":23},{"c":"12","p":51.59,"s":30},{"c":"12","p":52.38,"s":21},{"c":"12","p":53.2,"s":43},{"c":"12","p":54.76,"s":23},{"c":"12","p":55.56,"s":30},{"c":"12","p":56.35,"s":34},{"c":"12","p":57.14,"s":30},{"c":"12","p":57.94,"s":36},{"c":"12","p":58.49,"s":88},{"c":"12","p":59.13,"s":36},{"c":"12","p":59.92,"s":26},{"c":"12","p":60.48,"s":49},{"c":"12","p":61.51,"s":23},{"c":"12","p":62.7,"s":60},{"c":"12","p":63.49,"s":21},{"c":"12","p":64.13,"s":108},{"c":"12","p":64.68,"s":30},{"c":"12","p":65.48,"s":49},{"c":"12","p":66.27,"s":62},{"c":"12","p":66.83,"s":30}
]},
"spacing":1,
"resolve":{"scale":{"color":"independent"},"legend":{"color":"independent"}},
"hconcat":[
{"vconcat":[
 {"width":329,"height":220,
  "title":{"text":"a","anchor":"start","frame":"group","fontSize":15,"fontWeight":"bold","offset":3,"dy":10,"color":"black"},
  "layer":[
   {"data":{"name":"venn"},"mark":{"type":"point","shape":"circle","filled":true,"size":48400,"opacity":1,"fillOpacity":0.5,"strokeWidth":0},
    "encoding":{"x":{"field":"x","type":"quantitative","scale":{"domain":[0,329],"nice":false,"zero":false},"axis":{"orient":"bottom","title":"c","labels":false,"ticks":false,"domain":false,"titleX":0,"titleY":39,"titleAlign":"left","titleBaseline":"alphabetic","titleAngle":0,"titleFontSize":13,"titleFontWeight":"bold","titleColor":"black"}},
     "y":{"field":"y","type":"quantitative","scale":{"domain":[0,220],"nice":false,"zero":false},"axis":null},
     "color":{"field":"set","type":"nominal","scale":{"domain":["STOP1_1","STOP1_2"],"range":["#ff0000","#00ffff"]},"legend":null}}},
   {"data":{"name":"venn"},"mark":{"type":"point","shape":"circle","filled":false,"size":48400,"color":"black","strokeWidth":1.2,"opacity":1},
    "encoding":{"x":{"field":"x","type":"quantitative","scale":{"domain":[0,329],"nice":false,"zero":false},"axis":{"orient":"bottom","title":"c","labels":false,"ticks":false,"domain":false,"titleX":0,"titleY":39,"titleAlign":"left","titleBaseline":"alphabetic","titleAngle":0,"titleFontSize":13,"titleFontWeight":"bold","titleColor":"black"}},
     "y":{"field":"y","type":"quantitative","scale":{"domain":[0,220],"nice":false,"zero":false},"axis":null}}},
   {"data":{"name":"vlab"},"mark":{"type":"text","font":"Liberation Serif","fontSize":9.5,"color":"black","baseline":"middle","align":"center"},
    "encoding":{"x":{"field":"x","type":"quantitative","scale":{"domain":[0,329],"nice":false,"zero":false},"axis":{"orient":"bottom","title":"c","labels":false,"ticks":false,"domain":false,"titleX":0,"titleY":39,"titleAlign":"left","titleBaseline":"alphabetic","titleAngle":0,"titleFontSize":13,"titleFontWeight":"bold","titleColor":"black"}},
     "y":{"field":"y","type":"quantitative","scale":{"domain":[0,220],"nice":false,"zero":false},"axis":null},
     "text":{"field":"t"}}}
  ]},
 {"width":240,"height":180,
  "title":{"text":"Total=12690","orient":"bottom","anchor":"middle","frame":"group","fontSize":15,"fontWeight":"bold","offset":7,"dx":7,"color":"black"},
  "data":{"name":"pie"},
  "mark":{"type":"arc","radius":90,"stroke":"black","strokeWidth":1.5},
  "encoding":{
   "theta":{"field":"n","type":"quantitative","stack":true},
   "order":{"field":"o","type":"quantitative"},
   "color":{"field":"k","type":"nominal","scale":{"domain":["Promoter","Intron","Exon","Downstream","Distal Intergenic","5' UTR","3' UTR"],"range":["#b6f4dc","#0f9b62","#07495c","#000000","#666666","#f28482","#d29b55"]},
    "legend":{"orient":"none","legendX":219,"legendY":25,"title":null,"labelFontSize":14,"labelColor":"black","symbolType":"M-1.12,-0.47H1.12V0.47H-1.12Z","symbolSize":289,"symbolStrokeColor":"black","symbolStrokeWidth":1.5,"symbolOpacity":1,"rowPadding":0,"labelOffset":10,"labelLimit":81,"padding":0}}
  }}
],"spacing":30,"bounds":"flush","resolve":{"scale":{"color":"independent"},"legend":{"color":"independent"}}},
{"vconcat":[
 {"width":417,"height":30,"layer":[
  {"data":{"name":"segs"},"transform":[{"filter":"datum.c=='00'"}],"mark":{"type":"rule","strokeWidth":2,"color":"black"},
   "encoding":{"x":{"field":"a","type":"quantitative","scale":{"domain":[-4.5,95.3],"nice":false,"zero":false},"axis":{"orient":"top","title":"Peaks Over Chromosomes","labels":false,"ticks":false,"domain":false,"titleX":-2,"titleY":-8,"titleAlign":"left","titleAnchor":"start","titleBaseline":"alphabetic","titleFontSize":13,"titleFontWeight":"normal","titleColor":"black"}},"x2":{"field":"b"},
    "y":{"datum":0,"type":"quantitative","scale":{"domain":[-1.2,25.6],"nice":false,"zero":false},"axis":{"values":[0,5,10,15,20,25],"title":"b","titleAngle":0,"titleX":-47,"titleY":-8,"titleAlign":"left","titleBaseline":"alphabetic","titleFontWeight":"bold","titleFontSize":11,"titleColor":"black"}}}},
  {"data":{"name":"peaks"},"transform":[{"filter":"datum.c=='00'"}],"mark":{"type":"rule","strokeWidth":1.1,"color":"black"},
   "encoding":{"x":{"field":"p","type":"quantitative","scale":{"domain":[-4.5,95.3],"nice":false,"zero":false},"axis":{"orient":"top","title":"Peaks Over Chromosomes","labels":false,"ticks":false,"domain":false,"titleX":-2,"titleY":-8,"titleAlign":"left","titleAnchor":"start","titleBaseline":"alphabetic","titleFontSize":13,"titleFontWeight":"normal","titleColor":"black"}},
    "y":{"field":"s","type":"quantitative","scale":{"domain":[-1.2,25.6],"nice":false,"zero":false},"axis":{"values":[0,5,10,15,20,25],"title":"b","titleAngle":0,"titleX":-47,"titleY":-8,"titleAlign":"left","titleBaseline":"alphabetic","titleFontWeight":"bold","titleFontSize":11,"titleColor":"black"}},"y2":{"datum":0}}}]},
 {"width":417,"height":30,"layer":[
  {"data":{"name":"segs"},"transform":[{"filter":"datum.c=='01'"}],"mark":{"type":"rule","strokeWidth":3,"color":"black"},
   "encoding":{"x":{"field":"a","type":"quantitative","scale":{"domain":[-4.5,95.3],"nice":false,"zero":false},"axis":null},"x2":{"field":"b"},"y":{"datum":0,"type":"quantitative","scale":{"domain":[-6,133],"nice":false,"zero":false},"axis":{"values":[0,50,100],"title":null}}}},
  {"data":{"name":"peaks"},"transform":[{"filter":"datum.c=='01'"}],"mark":{"type":"rule","strokeWidth":1.1,"color":"black"},
   "encoding":{"x":{"field":"p","type":"quantitative","scale":{"domain":[-4.5,95.3],"nice":false,"zero":false},"axis":null},
    "y":{"field":"s","type":"quantitative","scale":{"domain":[-6,133],"nice":false,"zero":false},"axis":{"values":[0,50,100],"title":null}},"y2":{"datum":0}}}]},
 {"width":417,"height":30,"layer":[
  {"data":{"name":"segs"},"transform":[{"filter":"datum.c=='02'"}],"mark":{"type":"rule","strokeWidth":3,"color":"black"},
   "encoding":{"x":{"field":"a","type":"quantitative","scale":{"domain":[-4.5,95.3],"nice":false,"zero":false},"axis":null},"x2":{"field":"b"},"y":{"datum":0,"type":"quantitative","scale":{"domain":[-6.5,136],"nice":false,"zero":false},"axis":{"values":[0,50,100],"title":null}}}},
  {"data":{"name":"peaks"},"transform":[{"filter":"datum.c=='02'"}],"mark":{"type":"rule","strokeWidth":1.1,"color":"black"},
   "encoding":{"x":{"field":"p","type":"quantitative","scale":{"domain":[-4.5,95.3],"nice":false,"zero":false},"axis":null},
    "y":{"field":"s","type":"quantitative","scale":{"domain":[-6.5,136],"nice":false,"zero":false},"axis":{"values":[0,50,100],"title":null}},"y2":{"datum":0}}}]},
 {"width":417,"height":30,"layer":[
  {"data":{"name":"segs"},"transform":[{"filter":"datum.c=='03'"}],"mark":{"type":"rule","strokeWidth":3,"color":"black"},
   "encoding":{"x":{"field":"a","type":"quantitative","scale":{"domain":[-4.5,95.3],"nice":false,"zero":false},"axis":null},"x2":{"field":"b"},"y":{"datum":0,"type":"quantitative","scale":{"domain":[-7,145],"nice":false,"zero":false},"axis":{"values":[0,50,100],"title":null}}}},
  {"data":{"name":"peaks"},"transform":[{"filter":"datum.c=='03'"}],"mark":{"type":"rule","strokeWidth":1.1,"color":"black"},
   "encoding":{"x":{"field":"p","type":"quantitative","scale":{"domain":[-4.5,95.3],"nice":false,"zero":false},"axis":null},
    "y":{"field":"s","type":"quantitative","scale":{"domain":[-7,145],"nice":false,"zero":false},"axis":{"values":[0,50,100],"title":null}},"y2":{"datum":0}}}]},
 {"width":417,"height":30,"layer":[
  {"data":{"name":"segs"},"transform":[{"filter":"datum.c=='04'"}],"mark":{"type":"rule","strokeWidth":3,"color":"black"},
   "encoding":{"x":{"field":"a","type":"quantitative","scale":{"domain":[-4.5,95.3],"nice":false,"zero":false},"axis":null},"x2":{"field":"b"},"y":{"datum":0,"type":"quantitative","scale":{"domain":[-6,131],"nice":false,"zero":false},"axis":{"values":[0,25,50,75,100,125],"title":null}}}},
  {"data":{"name":"peaks"},"transform":[{"filter":"datum.c=='04'"}],"mark":{"type":"rule","strokeWidth":1.1,"color":"black"},
   "encoding":{"x":{"field":"p","type":"quantitative","scale":{"domain":[-4.5,95.3],"nice":false,"zero":false},"axis":null},
    "y":{"field":"s","type":"quantitative","scale":{"domain":[-6,131],"nice":false,"zero":false},"axis":{"values":[0,25,50,75,100,125],"title":null}},"y2":{"datum":0}}}]},
 {"width":417,"height":30,"layer":[
  {"data":{"name":"segs"},"transform":[{"filter":"datum.c=='05'"}],"mark":{"type":"rule","strokeWidth":3,"color":"black"},
   "encoding":{"x":{"field":"a","type":"quantitative","scale":{"domain":[-4.5,95.3],"nice":false,"zero":false},"axis":null},"x2":{"field":"b"},"y":{"datum":0,"type":"quantitative","scale":{"domain":[-6,126],"nice":false,"zero":false},"axis":{"values":[0,30,60,90,120],"title":null}}}},
  {"data":{"name":"peaks"},"transform":[{"filter":"datum.c=='05'"}],"mark":{"type":"rule","strokeWidth":1.1,"color":"black"},
   "encoding":{"x":{"field":"p","type":"quantitative","scale":{"domain":[-4.5,95.3],"nice":false,"zero":false},"axis":null},
    "y":{"field":"s","type":"quantitative","scale":{"domain":[-6,126],"nice":false,"zero":false},"axis":{"values":[0,30,60,90,120],"title":null}},"y2":{"datum":0}}}]},
 {"width":417,"height":30,"layer":[
  {"data":{"name":"segs"},"transform":[{"filter":"datum.c=='06'"}],"mark":{"type":"rule","strokeWidth":3,"color":"black"},
   "encoding":{"x":{"field":"a","type":"quantitative","scale":{"domain":[-4.5,95.3],"nice":false,"zero":false},"axis":null},"x2":{"field":"b"},"y":{"datum":0,"type":"quantitative","scale":{"domain":[-6,131],"nice":false,"zero":false},"axis":{"values":[0,25,50,75,100,125],"title":null}}}},
  {"data":{"name":"peaks"},"transform":[{"filter":"datum.c=='06'"}],"mark":{"type":"rule","strokeWidth":1.1,"color":"black"},
   "encoding":{"x":{"field":"p","type":"quantitative","scale":{"domain":[-4.5,95.3],"nice":false,"zero":false},"axis":null},
    "y":{"field":"s","type":"quantitative","scale":{"domain":[-6,131],"nice":false,"zero":false},"axis":{"values":[0,25,50,75,100,125],"title":null}},"y2":{"datum":0}}}]},
 {"width":417,"height":30,"layer":[
  {"data":{"name":"segs"},"transform":[{"filter":"datum.c=='07'"}],"mark":{"type":"rule","strokeWidth":3,"color":"black"},
   "encoding":{"x":{"field":"a","type":"quantitative","scale":{"domain":[-4.5,95.3],"nice":false,"zero":false},"axis":null},"x2":{"field":"b"},"y":{"datum":0,"type":"quantitative","scale":{"domain":[-7,145],"nice":false,"zero":false},"axis":{"values":[0,50,100],"title":null}}}},
  {"data":{"name":"peaks"},"transform":[{"filter":"datum.c=='07'"}],"mark":{"type":"rule","strokeWidth":1.1,"color":"black"},
   "encoding":{"x":{"field":"p","type":"quantitative","scale":{"domain":[-4.5,95.3],"nice":false,"zero":false},"axis":null},
    "y":{"field":"s","type":"quantitative","scale":{"domain":[-7,145],"nice":false,"zero":false},"axis":{"values":[0,50,100],"title":null}},"y2":{"datum":0}}}]},
 {"width":417,"height":30,"layer":[
  {"data":{"name":"segs"},"transform":[{"filter":"datum.c=='08'"}],"mark":{"type":"rule","strokeWidth":3,"color":"black"},
   "encoding":{"x":{"field":"a","type":"quantitative","scale":{"domain":[-4.5,95.3],"nice":false,"zero":false},"axis":null},"x2":{"field":"b"},"y":{"datum":0,"type":"quantitative","scale":{"domain":[-8,160],"nice":false,"zero":false},"axis":{"values":[0,50,100],"title":null}}}},
  {"data":{"name":"peaks"},"transform":[{"filter":"datum.c=='08'"}],"mark":{"type":"rule","strokeWidth":1.1,"color":"black"},
   "encoding":{"x":{"field":"p","type":"quantitative","scale":{"domain":[-4.5,95.3],"nice":false,"zero":false},"axis":null},
    "y":{"field":"s","type":"quantitative","scale":{"domain":[-8,160],"nice":false,"zero":false},"axis":{"values":[0,50,100],"title":null}},"y2":{"datum":0}}}]},
 {"width":417,"height":30,"layer":[
  {"data":{"name":"segs"},"transform":[{"filter":"datum.c=='09'"}],"mark":{"type":"rule","strokeWidth":3,"color":"black"},
   "encoding":{"x":{"field":"a","type":"quantitative","scale":{"domain":[-4.5,95.3],"nice":false,"zero":false},"axis":null},"x2":{"field":"b"},"y":{"datum":0,"type":"quantitative","scale":{"domain":[-8,160],"nice":false,"zero":false},"axis":{"values":[0,50,100],"title":null}}}},
  {"data":{"name":"peaks"},"transform":[{"filter":"datum.c=='09'"}],"mark":{"type":"rule","strokeWidth":1.1,"color":"black"},
   "encoding":{"x":{"field":"p","type":"quantitative","scale":{"domain":[-4.5,95.3],"nice":false,"zero":false},"axis":null},
    "y":{"field":"s","type":"quantitative","scale":{"domain":[-8,160],"nice":false,"zero":false},"axis":{"values":[0,50,100],"title":null}},"y2":{"datum":0}}}]},
 {"width":417,"height":30,"layer":[
  {"data":{"name":"segs"},"transform":[{"filter":"datum.c=='10'"}],"mark":{"type":"rule","strokeWidth":3,"color":"black"},
   "encoding":{"x":{"field":"a","type":"quantitative","scale":{"domain":[-4.5,95.3],"nice":false,"zero":false},"axis":null},"x2":{"field":"b"},"y":{"datum":0,"type":"quantitative","scale":{"domain":[-7,134],"nice":false,"zero":false},"axis":{"values":[0,50,100],"title":null}}}},
  {"data":{"name":"peaks"},"transform":[{"filter":"datum.c=='10'"}],"mark":{"type":"rule","strokeWidth":1.1,"color":"black"},
   "encoding":{"x":{"field":"p","type":"quantitative","scale":{"domain":[-4.5,95.3],"nice":false,"zero":false},"axis":null},
    "y":{"field":"s","type":"quantitative","scale":{"domain":[-7,134],"nice":false,"zero":false},"axis":{"values":[0,50,100],"title":null}},"y2":{"datum":0}}}]},
 {"width":417,"height":30,"layer":[
  {"data":{"name":"segs"},"transform":[{"filter":"datum.c=='11'"}],"mark":{"type":"rule","strokeWidth":3,"color":"black"},
   "encoding":{"x":{"field":"a","type":"quantitative","scale":{"domain":[-4.5,95.3],"nice":false,"zero":false},"axis":null},"x2":{"field":"b"},"y":{"datum":0,"type":"quantitative","scale":{"domain":[-6,122],"nice":false,"zero":false},"axis":{"values":[0,25,50,75,100],"title":null}}}},
  {"data":{"name":"peaks"},"transform":[{"filter":"datum.c=='11'"}],"mark":{"type":"rule","strokeWidth":1.1,"color":"black"},
   "encoding":{"x":{"field":"p","type":"quantitative","scale":{"domain":[-4.5,95.3],"nice":false,"zero":false},"axis":null},
    "y":{"field":"s","type":"quantitative","scale":{"domain":[-6,122],"nice":false,"zero":false},"axis":{"values":[0,25,50,75,100],"title":null}},"y2":{"datum":0}}}]},
 {"width":417,"height":30,"layer":[
  {"data":{"name":"segs"},"transform":[{"filter":"datum.c=='12'"}],"mark":{"type":"rule","strokeWidth":3,"color":"black"},
   "encoding":{"x":{"field":"a","type":"quantitative","scale":{"domain":[-4.5,95.3],"nice":false,"zero":false},"axis":{"orient":"bottom","values":[0,25,50,75],"labelExpr":"datum.value==0 ? '0.0e+00' : format(datum.value/10,'.1f')+'e+07'","title":"Chromosome Size (bp)","titleFontSize":11,"titleFontWeight":"normal","titleColor":"black","labelFontSize":8,"tickSize":3,"labelPadding":2,"titlePadding":2,"labelFlush":false}},"x2":{"field":"b"},"y":{"datum":0,"type":"quantitative","scale":{"domain":[-5,112],"nice":false,"zero":false},"axis":{"values":[0,30,60,90],"title":null}}}},
  {"data":{"name":"peaks"},"transform":[{"filter":"datum.c=='12'"}],"mark":{"type":"rule","strokeWidth":1.1,"color":"black"},
   "encoding":{"x":{"field":"p","type":"quantitative","scale":{"domain":[-4.5,95.3],"nice":false,"zero":false},"axis":{"orient":"bottom","values":[0,25,50,75],"labelExpr":"datum.value==0 ? '0.0e+00' : format(datum.value/10,'.1f')+'e+07'","title":"Chromosome Size (bp)","titleFontSize":11,"titleFontWeight":"normal","titleColor":"black","labelFontSize":8,"tickSize":3,"labelPadding":2,"titlePadding":2,"labelFlush":false}},
    "y":{"field":"s","type":"quantitative","scale":{"domain":[-5,112],"nice":false,"zero":false},"axis":{"values":[0,30,60,90],"title":null}},"y2":{"datum":0}}}]}
],"spacing":6,"bounds":"flush"},
{"vconcat":[
 {"width":52,"height":30,"data":{"values":[{"t":"SL4.0ch00"}]},"mark":{"type":"text","fontSize":9,"color":"#1a1a1a"},"encoding":{"text":{"field":"t"}},"view":{"stroke":"#333333","strokeWidth":1.2}},
 {"width":52,"height":30,"data":{"values":[{"t":"SL4.0ch01"}]},"mark":{"type":"text","fontSize":9,"color":"#1a1a1a"},"encoding":{"text":{"field":"t"}},"view":{"stroke":"#333333","strokeWidth":1.2}},
 {"width":52,"height":30,"data":{"values":[{"t":"SL4.0ch02"}]},"mark":{"type":"text","fontSize":9,"color":"#1a1a1a"},"encoding":{"text":{"field":"t"}},"view":{"stroke":"#333333","strokeWidth":1.2}},
 {"width":52,"height":30,"data":{"values":[{"t":"SL4.0ch03"}]},"mark":{"type":"text","fontSize":9,"color":"#1a1a1a"},"encoding":{"text":{"field":"t"}},"view":{"stroke":"#333333","strokeWidth":1.2}},
 {"width":52,"height":30,"data":{"values":[{"t":"SL4.0ch04"}]},"mark":{"type":"text","fontSize":9,"color":"#1a1a1a"},"encoding":{"text":{"field":"t"}},"view":{"stroke":"#333333","strokeWidth":1.2}},
 {"width":52,"height":30,"data":{"values":[{"t":"SL4.0ch05"}]},"mark":{"type":"text","fontSize":9,"color":"#1a1a1a"},"encoding":{"text":{"field":"t"}},"view":{"stroke":"#333333","strokeWidth":1.2}},
 {"width":52,"height":30,"data":{"values":[{"t":"SL4.0ch06"}]},"mark":{"type":"text","fontSize":9,"color":"#1a1a1a"},"encoding":{"text":{"field":"t"}},"view":{"stroke":"#333333","strokeWidth":1.2}},
 {"width":52,"height":30,"data":{"values":[{"t":"SL4.0ch07"}]},"mark":{"type":"text","fontSize":9,"color":"#1a1a1a"},"encoding":{"text":{"field":"t"}},"view":{"stroke":"#333333","strokeWidth":1.2}},
 {"width":52,"height":30,"data":{"values":[{"t":"SL4.0ch08"}]},"mark":{"type":"text","fontSize":9,"color":"#1a1a1a"},"encoding":{"text":{"field":"t"}},"view":{"stroke":"#333333","strokeWidth":1.2}},
 {"width":52,"height":30,"data":{"values":[{"t":"SL4.0ch09"}]},"mark":{"type":"text","fontSize":9,"color":"#1a1a1a"},"encoding":{"text":{"field":"t"}},"view":{"stroke":"#333333","strokeWidth":1.2}},
 {"width":52,"height":30,"data":{"values":[{"t":"SL4.0ch10"}]},"mark":{"type":"text","fontSize":9,"color":"#1a1a1a"},"encoding":{"text":{"field":"t"}},"view":{"stroke":"#333333","strokeWidth":1.2}},
 {"width":52,"height":30,"data":{"values":[{"t":"SL4.0ch11"}]},"mark":{"type":"text","fontSize":9,"color":"#1a1a1a"},"encoding":{"text":{"field":"t"}},"view":{"stroke":"#333333","strokeWidth":1.2}},
 {"width":52,"height":30,"data":{"values":[{"t":"SL4.0ch12"}]},"mark":{"type":"text","fontSize":9,"color":"#1a1a1a"},"encoding":{"text":{"field":"t"}},"view":{"stroke":"#333333","strokeWidth":1.2}}
],"spacing":6,"bounds":"flush"}
]}
